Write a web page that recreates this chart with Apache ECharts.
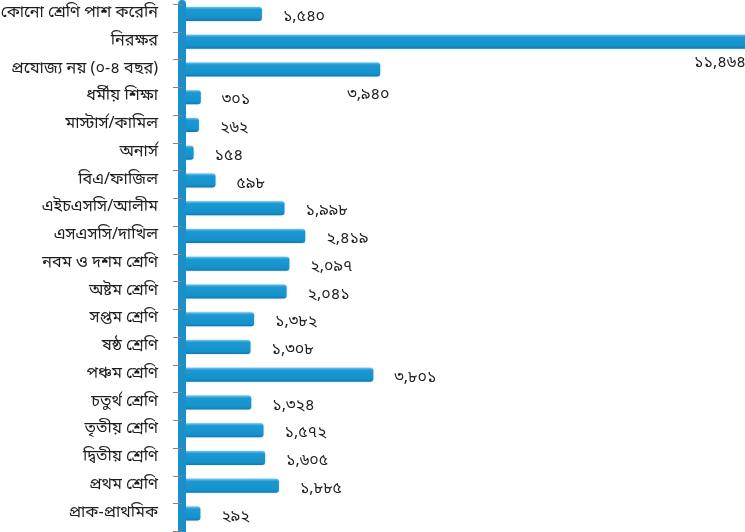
<!DOCTYPE html>
<html>
<head>
<meta charset="utf-8">
<script src="https://cdn.jsdelivr.net/npm/echarts@6/dist/echarts.min.js"></script>
<style>
  html, body { margin: 0; padding: 0; background: #ffffff; }
  #chart { width: 745px; height: 532px; }
</style>
</head>
<body>
<div id="chart"></div>
<script>
// শিক্ষাগত যোগ্যতা অনুযায়ী সংখ্যা
const categories = [
  'কোনো শ্রেণি পাশ করেনি', 'নিরক্ষর', 'প্রযোজ্য নয় (০-৪ বছর)', 'ধর্মীয় শিক্ষা',
  'মাস্টার্স/কামিল', 'অনার্স', 'বিএ/ফাজিল', 'এইচএসসি/আলীম', 'এসএসসি/দাখিল',
  'নবম ও দশম শ্রেণি', 'অষ্টম শ্রেণি', 'সপ্তম শ্রেণি', 'ষষ্ঠ শ্রেণি', 'পঞ্চম শ্রেণি',
  'চতুর্থ শ্রেণি', 'তৃতীয় শ্রেণি', 'দ্বিতীয় শ্রেণি', 'প্রথম শ্রেণি', 'প্রাক-প্রাথমিক'
];
const values = [
  1540, 11464, 3940, 301, 262, 154, 598, 1998, 2419,
  2097, 2041, 1382, 1308, 3801, 1324, 1572, 1605, 1885, 292
];

const bnDigits = ['০','১','২','৩','৪','৫','৬','৭','৮','৯'];
function toBangla(n) {
  const s = n.toLocaleString('en-US');
  return s.replace(/[0-9]/g, d => bnDigits[+d]);
}

const FONT = "'Noto Sans Bengali','Lohit Bengali','FreeSans',sans-serif";

const barColor = new echarts.graphic.LinearGradient(0, 0, 0, 1, [
  { offset: 0, color: '#6cc3ec' },
  { offset: 0.18, color: '#1c98d3' },
  { offset: 0.8, color: '#1591cc' },
  { offset: 1, color: '#1279b0' }
]);

// labels for the two longest bars sit below the bar end
const seriesData = values.map((v, i) => {
  const item = { value: v };
  if (i === 1) {
    item.label = { offset: [-78, 22] };
  } else if (i === 2) {
    item.label = { offset: [-54, 27] };
  }
  return item;
});

const chart = echarts.init(document.getElementById('chart'), null, { renderer: 'canvas' });
chart.setOption({
  backgroundColor: '#ffffff',
  animation: false,
  grid: [
    { left: 186, top: 0, width: 565, height: 527.5, containLabel: false, outerBoundsMode: 'none' },
    { left: 182, top: 4, width: 100, height: 527.5, containLabel: false, outerBoundsMode: 'none' }
  ],
  xAxis: [
    { gridIndex: 0, type: 'value', min: 0, max: 11464, show: false },
    { gridIndex: 1, type: 'value', min: 0, max: 1, show: false }
  ],
  yAxis: [
    {
      gridIndex: 0,
      type: 'category',
      data: categories,
      inverse: true,
      axisLine: { show: false },
      axisTick: { show: false },
      axisLabel: {
        margin: 28,
        padding: [5, 0, 0, 0],
        color: '#1e1e1e',
        fontSize: 16.2,
        fontFamily: FONT
      }
    },
    {
      gridIndex: 1,
      type: 'category',
      data: categories,
      inverse: true,
      z: 5,
      axisLine: { show: true, lineStyle: { color: '#1b8fc8', width: 8 } },
      axisTick: { show: true, length: 9, lineStyle: { color: '#9a8070', width: 1 } },
      axisLabel: { show: false }
    }
  ],
  series: [
    {
      type: 'bar',
      xAxisIndex: 0,
      yAxisIndex: 0,
      data: seriesData,
      barWidth: 14,
      itemStyle: {
        color: barColor,
        borderRadius: [0, 3, 3, 0],
        shadowColor: 'rgba(20,120,180,0.35)',
        shadowBlur: 2
      },
      label: {
        show: true,
        position: 'right',
        distance: 21,
        offset: [0, 4],
        color: '#1e1e1e',
        fontSize: 16,
        fontFamily: FONT,
        formatter: p => toBangla(p.value)
      }
    }
  ]
});
</script>
</body>
</html>
